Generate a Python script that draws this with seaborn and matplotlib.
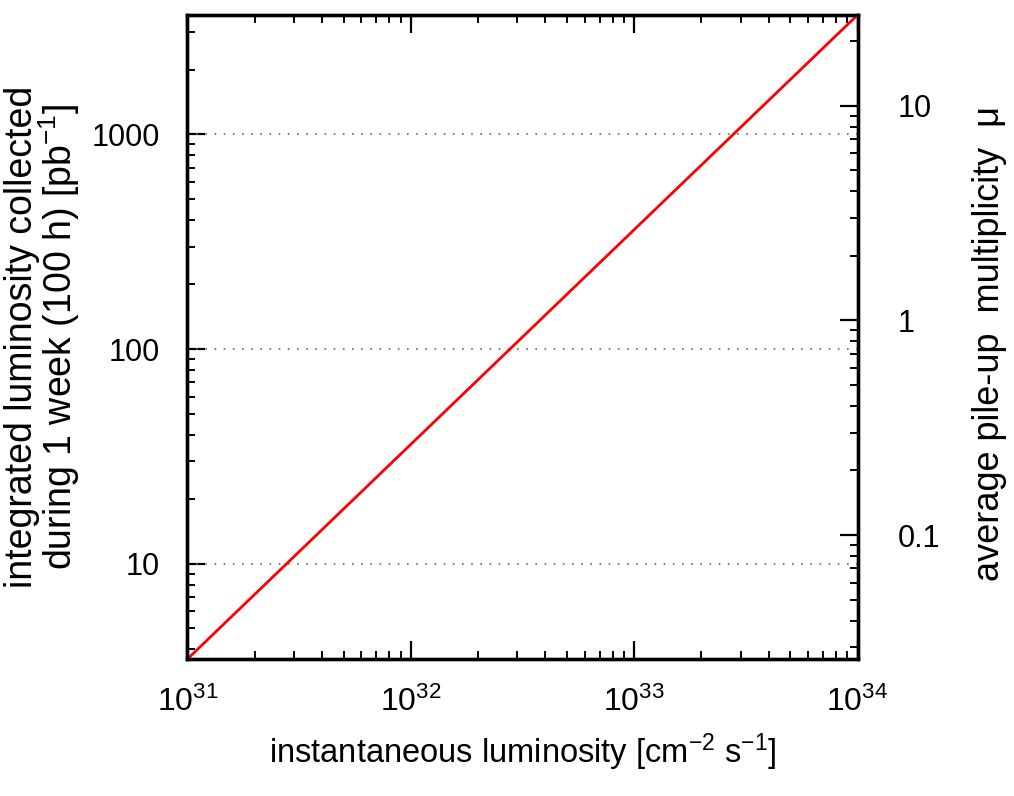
import matplotlib
matplotlib.use("Agg")
import matplotlib.pyplot as plt
from matplotlib.ticker import LogLocator, NullFormatter, FixedLocator, FixedFormatter
import numpy as np
import pandas as pd
import seaborn as sns

# Instantaneous luminosity [cm^-2 s^-1] and luminosity collected in 100 h [pb^-1]
inst_lumi = [1e31, 1e32, 1e33, 1e34]
integrated_lumi = [3.6, 36.0, 360.0, 3600.0]
# pile-up multiplicity per pb^-1 collected in 100 h
mu_per_pb = 1.0 / 136.0

left_ticks = [10, 100, 1000]
right_ticks = [0.1, 1, 10]
right_tick_labels = ["0.1", "1", "10"]

sns.set_style("ticks")

family = "Liberation Sans"
plt.rcParams["font.family"] = [family, "DejaVu Sans"]
plt.rcParams["mathtext.fontset"] = "custom"
plt.rcParams["mathtext.rm"] = family
plt.rcParams["mathtext.it"] = family
plt.rcParams["mathtext.bf"] = family
plt.rcParams["text.color"] = "black"
plt.rcParams["axes.labelcolor"] = "black"
plt.rcParams["xtick.color"] = "black"
plt.rcParams["ytick.color"] = "black"

df = pd.DataFrame({"inst": inst_lumi, "integ": integrated_lumi})

fig = plt.figure(figsize=(10.14, 7.96), dpi=100)
ax = fig.add_axes([0.1849, 0.1721, 0.8457 - 0.1849, 0.9812 - 0.1721])

ax.set_xscale("log")
ax.set_yscale("log")
sns.lineplot(data=df, x="inst", y="integ", color="#ff0000", linewidth=2.0, ax=ax, zorder=5)

ax.set_xlim(inst_lumi[0], inst_lumi[-1])
ax.set_ylim(integrated_lumi[0], integrated_lumi[-1])

for v in left_ticks:
    ax.axhline(v, color="#666666", linestyle=(0, (1, 4.5)), linewidth=1.2, zorder=1)

ax.xaxis.set_major_locator(LogLocator(base=10, numticks=10))
ax.xaxis.set_minor_locator(LogLocator(base=10, subs=np.arange(2, 10), numticks=20))
ax.xaxis.set_minor_formatter(NullFormatter())
ax.yaxis.set_major_locator(FixedLocator(left_ticks))
ax.yaxis.set_major_formatter(FixedFormatter([str(v) for v in left_ticks]))
ax.yaxis.set_minor_locator(LogLocator(base=10, subs=np.arange(2, 10), numticks=20))
ax.yaxis.set_minor_formatter(NullFormatter())

tick_fs = 22
ax.tick_params(axis="both", which="major", direction="in", length=13, width=1.6,
               labelsize=tick_fs)
ax.tick_params(axis="both", which="minor", direction="in", length=6, width=1.4)
ax.tick_params(axis="x", which="both", top=True, bottom=True)
ax.tick_params(axis="x", which="major", pad=20, labelsize=tick_fs + 1)
ax.tick_params(axis="y", which="both", left=True, right=False)
ax.tick_params(axis="y", which="major", pad=20)

ax2 = ax.twinx()
ax2.set_yscale("log")
lo, hi = ax.get_ylim()
ax2.set_ylim(lo * mu_per_pb, hi * mu_per_pb)
ax2.yaxis.set_major_locator(FixedLocator(right_ticks))
ax2.yaxis.set_major_formatter(FixedFormatter(right_tick_labels))
ax2.yaxis.set_minor_locator(LogLocator(base=10, subs=np.arange(2, 10), numticks=20))
ax2.yaxis.set_minor_formatter(NullFormatter())
ax2.tick_params(axis="y", which="major", direction="in", length=13, width=1.6,
                labelsize=tick_fs, pad=29)
ax2.tick_params(axis="y", which="minor", direction="in", length=6, width=1.4)

for a in (ax, ax2):
    for s in a.spines.values():
        s.set_visible(True)
        s.set_linewidth(2.4)
        s.set_color("black")

ax.set_xlabel("instantaneous luminosity [cm$^{-2}$ s$^{-1}$]", fontsize=23.5, labelpad=10)
ax.set_ylabel("integrated luminosity collected\nduring 1 week (100 h) [pb$^{-1}$]",
              fontsize=27, linespacing=0.9)
ax.yaxis.set_label_coords(-0.157, 0.5)
ax2.set_ylabel("average pile-up  multiplicity  μ", fontsize=26)
ax2.yaxis.set_label_coords(1.171, 0.49)

fig.savefig("out.png", dpi=100)
